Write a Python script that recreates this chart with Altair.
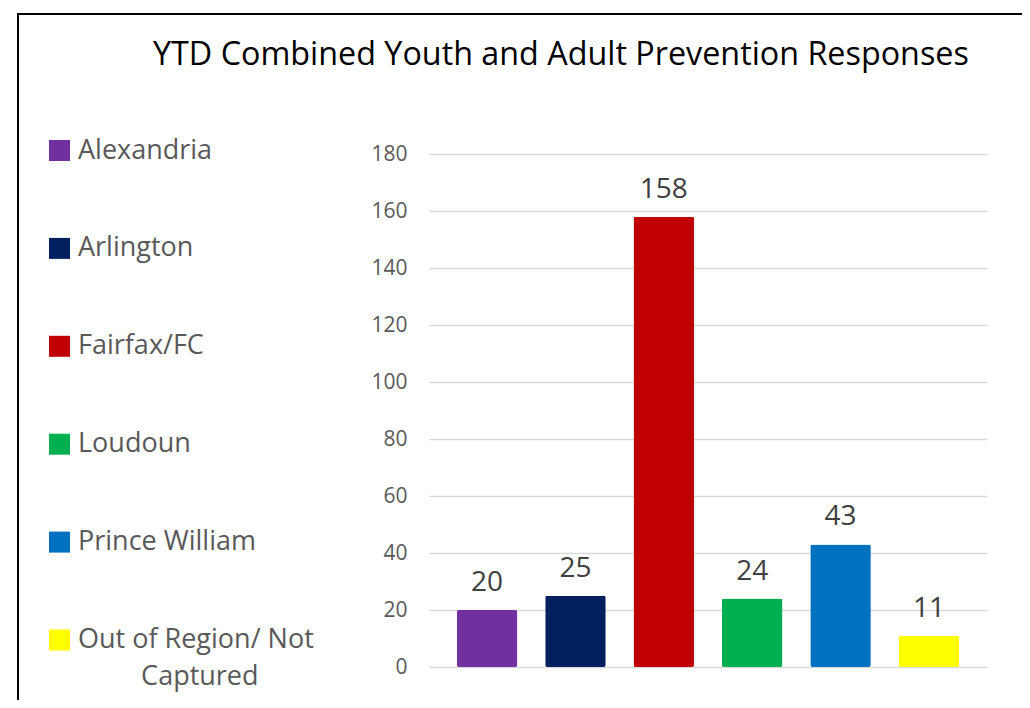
import altair as alt
import pandas as pd

# ---- data ----
categories = ["Alexandria", "Arlington", "Fairfax/FC", "Loudoun",
              "Prince William", "Out of Region/ Not Captured"]
values = [20, 25, 158, 24, 43, 11]
colors = ["#7030A0", "#002060", "#C00000", "#00B050", "#0070C0", "#FFFF00"]
y_ticks = [0, 20, 40, 60, 80, 100, 120, 140, 160, 180]
chart_title = "YTD Combined Youth and Adult Prevention Responses"

df = pd.DataFrame({"region": categories, "responses": values})
frame_df = pd.DataFrame({"k": [0]})

FONT = "Open Sans"
NBSP = "\u00a0"
ZWSP = "\u200b"
label_expr = (
    "datum.label == 'Out of Region/ Not Captured' ? "
    "['Out of Region/ Not', '" + ZWSP + NBSP * 9 + "Captured'] : datum.label"
)

x_enc = alt.X("region:N", sort=categories, axis=None,
              scale=alt.Scale(paddingInner=0.315, paddingOuter=0.315))
y_enc = alt.Y("responses:Q", scale=alt.Scale(domain=[0, 180], nice=False),
              axis=alt.Axis(values=y_ticks, title=None, domain=False, ticks=False,
                            tickSize=0, labelPadding=22, labelFontSize=21,
                            labelColor="#595959", labelFont=FONT,
                            gridColor="#d9d9d9", gridWidth=1.5))

color_enc = alt.Color(
    "region:N", sort=categories,
    scale=alt.Scale(domain=categories, range=colors),
    legend=alt.Legend(title=None, orient="none", legendX=-383, legendY=-17,
                      symbolType="square", symbolSize=441, symbolStrokeWidth=0,
                      symbolOpacity=1, labelFontSize=27, labelFont=FONT,
                      labelColor="#595959", labelOffset=5, labelLimit=600,
                      rowPadding=69.9, padding=0,
                      labelExpr=label_expr),
)

frame = alt.Chart(frame_df).mark_rect(filled=False, stroke="black", strokeWidth=2).encode(
    x=alt.value(-411), x2=alt.value(700), y=alt.value(-140), y2=alt.value(700)
)

bars = alt.Chart(df).mark_bar(cornerRadius=2).encode(x=x_enc, y=y_enc, color=color_enc)

labels = alt.Chart(df).mark_text(
    baseline="alphabetic", dy=-19, fontSize=28, font=FONT, color="#404040"
).encode(x=x_enc, y=y_enc, text=alt.Text("responses:Q"))

chart = alt.layer(frame, bars, labels).properties(
    width=558, height=513,
    autosize=alt.AutoSizeParams(type="none"),
    padding={"left": 421, "top": 146, "right": 35, "bottom": 33},
    title=alt.TitleParams(text=chart_title, font=FONT, fontSize=32.3,
                          fontWeight="normal", color="black", anchor="start",
                          frame="group", baseline="alphabetic", dx=-276,
                          offset=0, dy=84),
).configure(
    style={"guide-label": {"lineHeight": 37}},
    view=alt.ViewConfig(stroke=None),
)

chart.save("out.html", embed_options={"renderer": "svg", "actions": False})
